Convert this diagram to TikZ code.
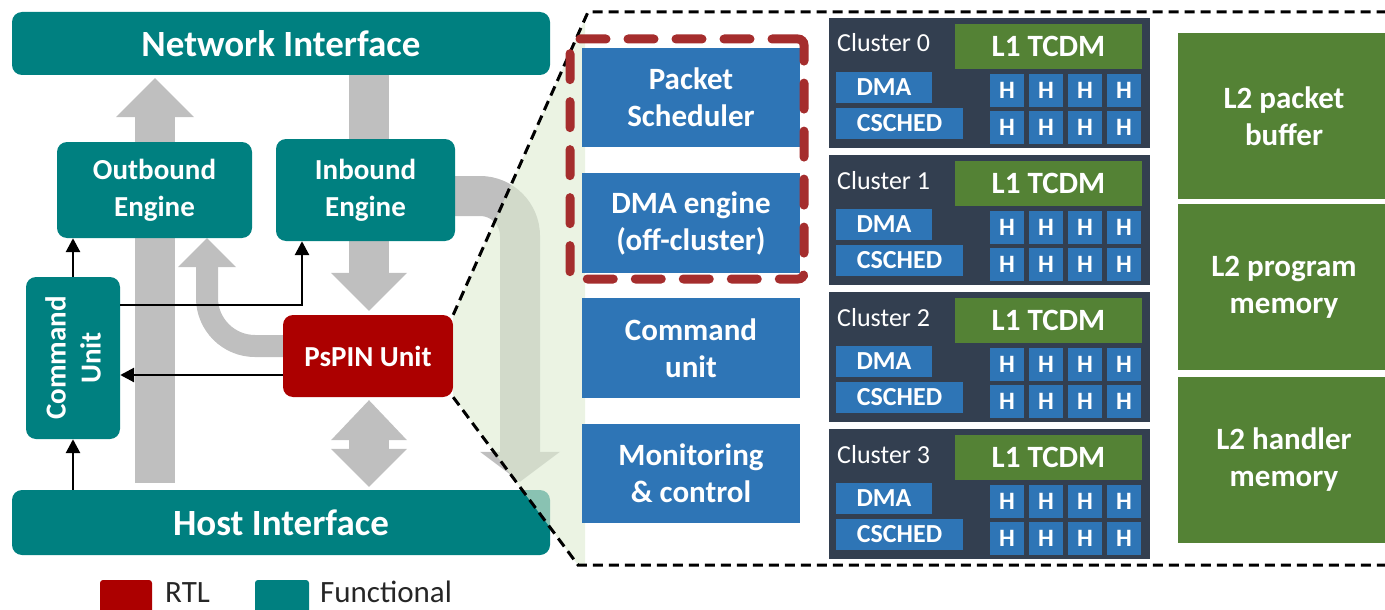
\documentclass[tikz,border=0pt]{standalone}
\usepackage{fontspec}
\setmainfont{Carlito}
\usetikzlibrary{arrows.meta}
\definecolor{tealc}{RGB}{0,128,128}
\definecolor{pspinred}{RGB}{172,0,0}
\definecolor{grayarr}{RGB}{191,191,191}
\definecolor{blueb}{RGB}{46,117,182}
\definecolor{slate}{RGB}{51,63,80}
\definecolor{greenb}{RGB}{84,130,53}
\definecolor{reddash}{RGB}{165,45,45}
\definecolor{trifill}{RGB}{222,236,210}
\newcommand{\fsz}[2]{\fontsize{#1}{#2}\selectfont}
\begin{document}
\begin{tikzpicture}[x=1pt,y=-1pt,
  tbox/.style={fill=tealc, rounded corners=10pt, text=white, inner sep=0pt, align=center},
  pbox/.style={fill=pspinred, rounded corners=10pt, text=white, inner sep=0pt, align=center},
  bbox/.style={fill=blueb, text=white, inner sep=0pt, align=center},
  gbox/.style={fill=greenb, text=white, inner sep=0pt, align=center},
  sbox/.style={fill=slate, inner sep=0pt},
  txt/.style={inner sep=0pt, align=center},
  blk/.style={line width=2.8pt, -{Triangle[width=14pt,length=14pt]}},
  gshaft/.style={draw=grayarr, line width=40pt},
  gtip/.style={draw=grayarr, line width=#1},
  outline/.style={line width=3pt, dash pattern=on 10pt off 6pt},
  seldash/.style={draw=reddash, line width=9pt, dash pattern=on 26pt off 22pt, line cap=round, rounded corners=6pt}
]
\useasboundingbox (0,0) rectangle (1385,610);

% ---------- helper coordinates
\coordinate (gx) at (155,0);
\coordinate (gy) at (369,0);
\coordinate (gz) at (207,346);
\coordinate (gw) at (520,196);
\coordinate (j1) at (302,305);
\coordinate (j2) at (0,375);
\coordinate (tl) at (588,12);
\coordinate (tr) at (1392,12);
\coordinate (bl) at (578,565);
\coordinate (br) at (1392,565);
\coordinate (f1) at (585,19);
\coordinate (f2) at (585,565);

% ---------- left blocks (defined first for anchors, drawn over arrows later)
\path
  node[minimum width=538pt, minimum height=63pt] (net) at (281,43.5) {}
  node[minimum width=538pt, minimum height=65pt] (host) at (281,522.5) {}
  node[minimum width=195pt, minimum height=96pt] (outb) at (154.5,190) {}
  node[minimum width=179pt, minimum height=102pt] (inb) at (365.5,190) {}
  node[minimum width=94pt, minimum height=162pt] (cmd) at (73,358) {}
  node[minimum width=170pt, minimum height=82pt] (pspin) at (368,356) {};

% ---------- gray block arrows
\draw[gtip=40pt, -{Triangle[width=78pt,length=39pt,line width=0pt]}, shorten <=7pt, shorten >=3pt]
  (gx |- host.north) -- (gx |- net.south);
\draw[gshaft] (gy |- net.south) -- (gy |- inb.north);
\draw[gtip=40pt, -{Triangle[width=76pt,length=38pt,line width=0pt]}, shorten >=4pt]
  (gy |- inb.south) -- (gy |- pspin.north);
\draw[gtip=40pt, {Triangle[width=76pt,length=40pt,line width=0pt]}-{Triangle[width=76pt,length=38pt,line width=0pt]}, shorten <=3pt, shorten >=3pt]
  (gy |- pspin.south) -- (gy |- host.north);
\draw[gtip=22pt, rounded corners=48pt, -{Triangle[width=58pt,length=29pt,line width=0pt]}]
  (pspin.west |- gz) -| (gz |- outb.south);
\draw[gtip=40pt, rounded corners=40pt, -{Triangle[width=80pt,length=30pt,line width=0pt]}, shorten >=8pt]
  (inb.east |- gw) -| (gw |- host.north);

% ---------- left blocks drawn
\node[tbox, minimum width=538pt, minimum height=63pt, font=\bfseries\fsz{37}{44}] at (net) {Network Interface};
\node[tbox, minimum width=538pt, minimum height=65pt, font=\bfseries\fsz{37}{44}] at (host) {Host Interface};
\node[tbox, minimum width=195pt, minimum height=96pt, font=\bfseries\fsz{29}{37}] at (outb) {Outbound\\Engine};
\node[tbox, minimum width=179pt, minimum height=102pt, font=\bfseries\fsz{29}{37}] at (inb) {Inbound\\Engine};
\node[tbox, minimum width=94pt, minimum height=162pt] at (cmd) {};
\node[txt, text=white, rotate=90, font=\bfseries\fsz{29}{35}] (cmdt) at (cmd) {Command\\Unit};
\node[pbox, minimum width=170pt, minimum height=82pt, font=\bfseries\fsz{29}{35}] at (pspin) {PsPIN Unit};

% ---------- zoom region
\fill[trifill, opacity=0.62] (pspin.north east) -- (f1) -- (f2) -- (bl) -- (pspin.south east) -- cycle;
\draw[outline] (pspin.north east) -- (tl) -- (tr);
\draw[outline] (pspin.south east) -- (bl) -- (br);

% ---------- black arrows
\draw[blk] (cmd.south |- host.north) -- (cmd.south);
\draw[blk] (cmd.north) -- (cmd.north |- outb.south);
\draw[blk] (cmd.east |- j1) -| (j1 |- inb.south);
\draw[blk] (pspin.west |- j2) -- (cmd.east |- j2);

% ---------- legend
\node[fill=pspinred, rounded corners=3pt, minimum width=52pt, minimum height=34pt, inner sep=0pt] (lr) at (126,597) {};
\node[anchor=base west, inner sep=0pt, text=black!85, font=\fsz{31}{37}] (lrt) at (165,602) {RTL};
\node[fill=tealc, rounded corners=3pt, minimum width=54pt, minimum height=34pt, inner sep=0pt] (lf) at (282,597) {};
\node[anchor=base west, inner sep=0pt, text=black!85, font=\fsz{31}{37}] (lft) at (320,602) {Functional};

% ---------- right: off-cluster blocks
\node[bbox, minimum width=218pt, minimum height=99pt, font=\bfseries\fsz{31}{37}] (ps) at (691,97.5) {Packet\\Scheduler};
\node[bbox, minimum width=218pt, minimum height=100pt, font=\bfseries\fsz{31}{37}] (dmae) at (691,223) {DMA engine\\(off-cluster)};
\node[bbox, minimum width=218pt, minimum height=100pt, font=\bfseries\fsz{31}{37}] (cmdu) at (691,348) {Command\\unit};
\node[bbox, minimum width=218pt, minimum height=99pt, font=\bfseries\fsz{31}{37}] (mon) at (691,473.5) {Monitoring\\\& control};
\node[seldash, minimum width=234pt, minimum height=240pt, inner sep=0pt] (sel) at (687,159) {};

% ---------- clusters
\foreach \k in {0,...,3}{
  \pgfmathsetmacro{\dy}{137*\k}
  \node[sbox, minimum width=321pt, minimum height=130pt] (cl\k) at (989.5,{83+\dy}) {};
  \node[anchor=base west, inner sep=0pt, text=white, font=\fsz{26}{31}] (cn\k) at (837,{52+\dy}) {Cluster \k};
  \node[gbox, minimum width=187pt, minimum height=45pt, font=\bfseries\fsz{31}{37}] (lone\k) at (1048.5,{46.5+\dy}) {L1 TCDM};
  \node[bbox, minimum width=96pt, minimum height=31pt, font=\bfseries\fsz{26}{31}] (dma\k) at (884,{87.5+\dy}) {DMA};
  \node[bbox, minimum width=127pt, minimum height=31pt, font=\bfseries\fsz{26}{31}] (cs\k) at (899.5,{123.5+\dy}) {CSCHED};
  \foreach \i in {0,...,3}{
    \foreach \j in {0,1}{
      \node[bbox, minimum width=34pt, minimum height=33pt, font=\bfseries\fsz{25}{30}] (h\k\i\j) at ({1007+39*\i},{90.5+37*\j+\dy}) {H};
    }
  }
}

% ---------- L2 memories
\node[gbox, minimum width=212pt, minimum height=166pt, font=\bfseries\fsz{31}{37}] (l2a) at (1284,116) {L2 packet\\buffer};
\node[gbox, minimum width=212pt, minimum height=166pt, font=\bfseries\fsz{31}{37}] (l2b) at (1284,287) {L2 program\\memory};
\node[gbox, minimum width=212pt, minimum height=166pt, font=\bfseries\fsz{31}{37}] (l2c) at (1284,460) {L2 handler\\memory};
\end{tikzpicture}
\end{document}
